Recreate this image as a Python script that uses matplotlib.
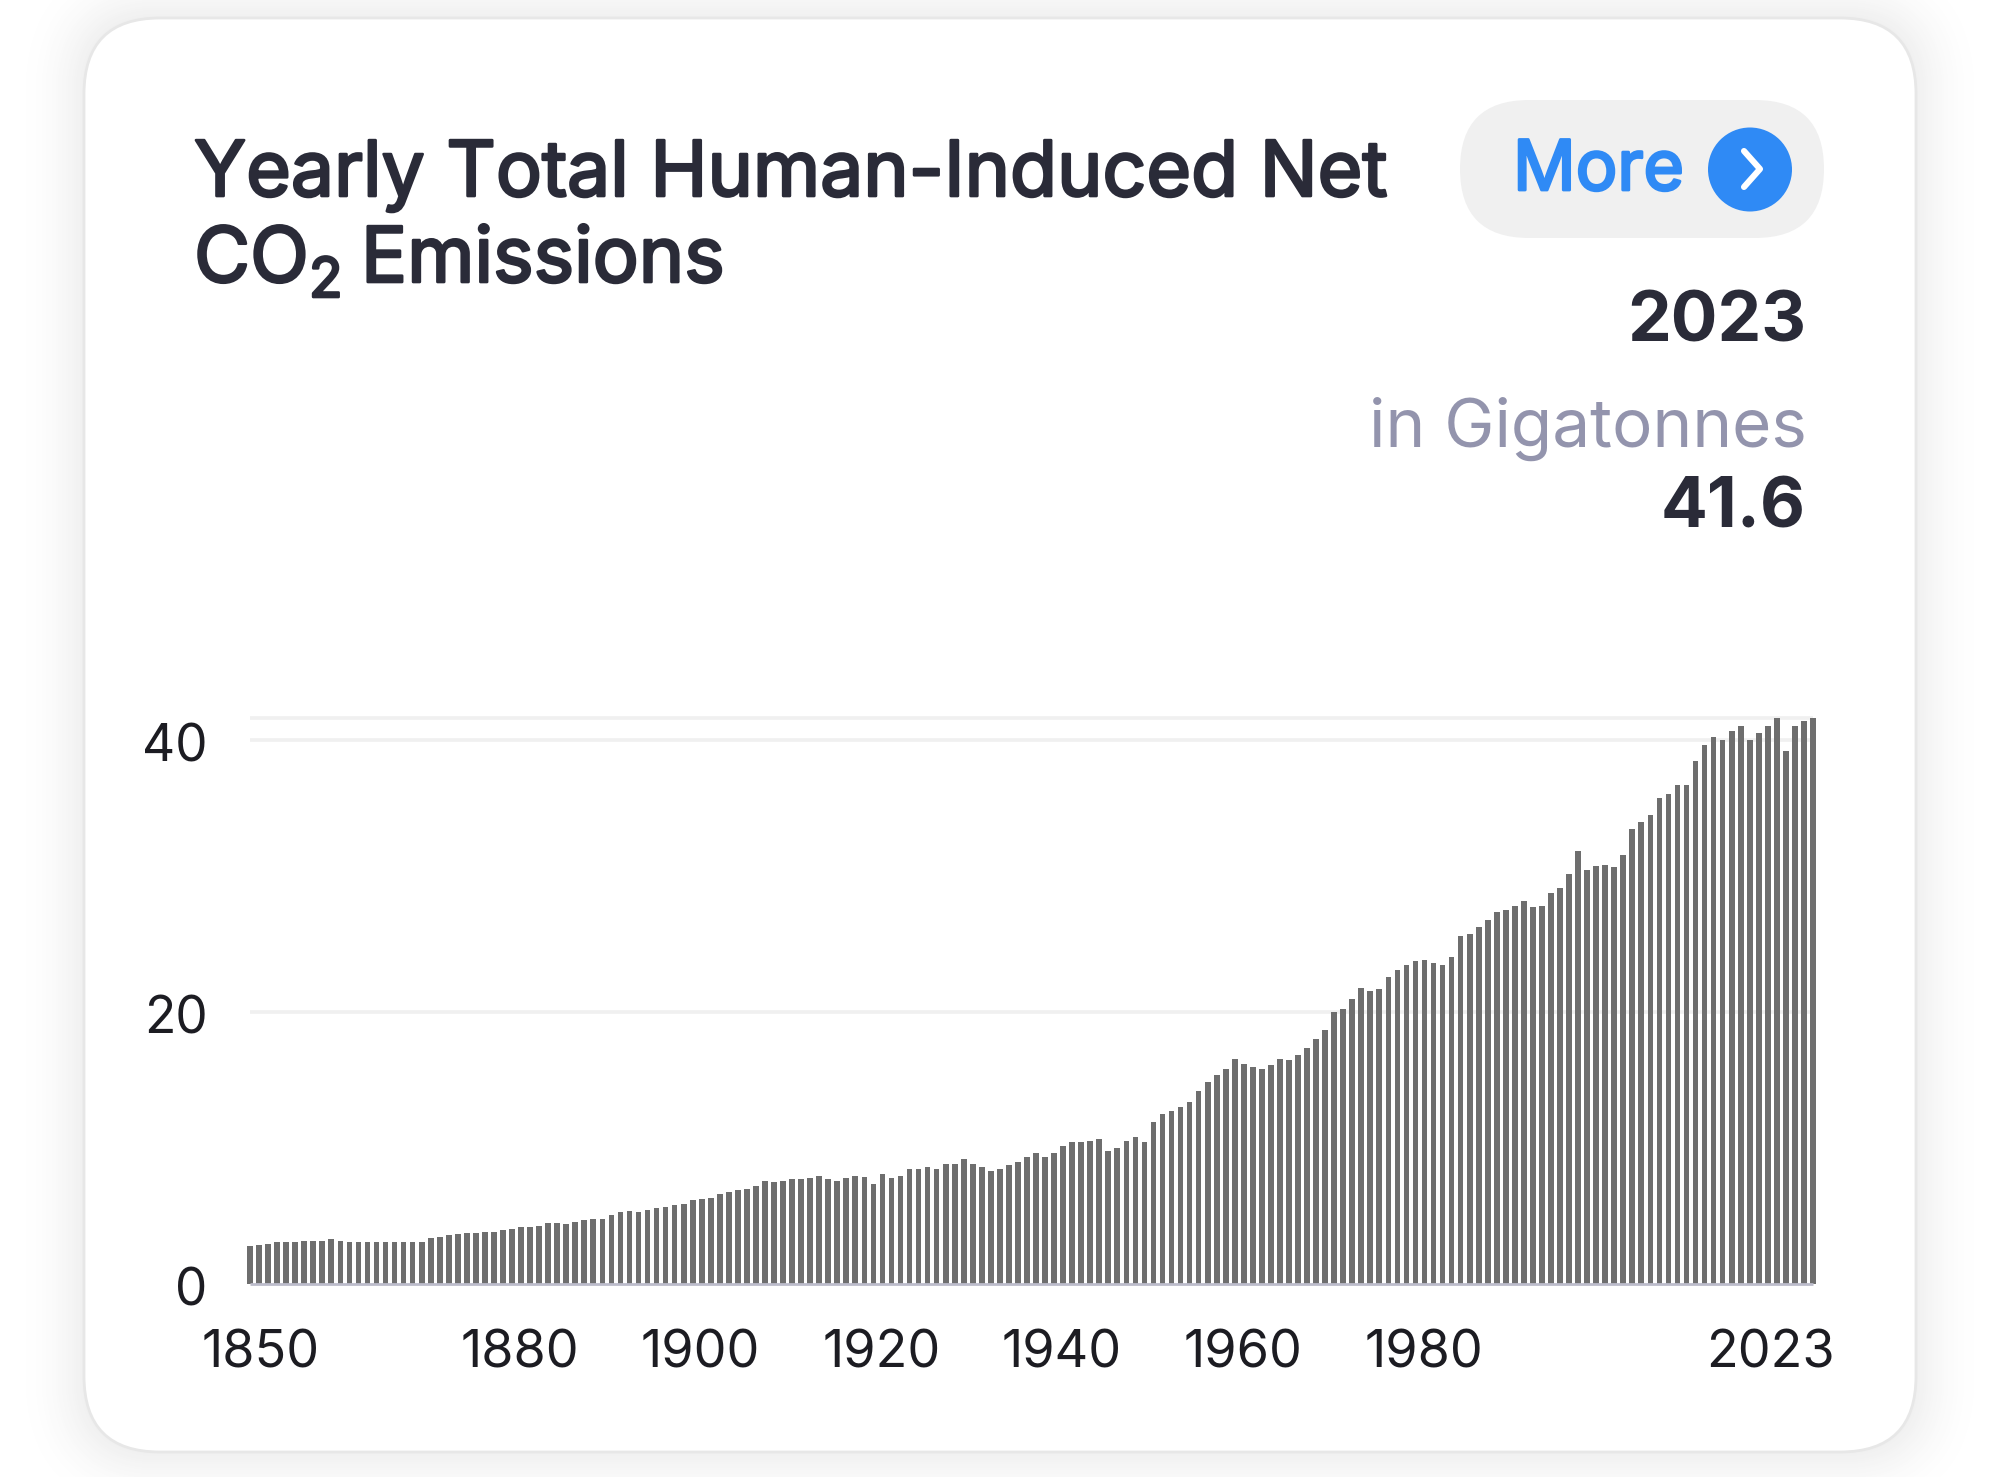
import numpy as np
import matplotlib
matplotlib.use("Agg")
import matplotlib.pyplot as plt
import matplotlib.patheffects as pe
from matplotlib.patches import FancyBboxPatch, Circle
from matplotlib.transforms import ScaledTranslation

W, H = 2000, 1477
DPI = 100

# one value per year 1850-2023 (gigatonnes)
years = np.arange(1850, 2024)
emissions = np.array([
    2.75, 2.84, 2.94, 3.04, 3.04, 3.04, 3.14, 3.14, 3.14, 3.24,
    3.14, 3.04, 3.04, 3.04, 3.04, 3.04, 3.04, 3.04, 3.04, 3.04,
    3.33, 3.43, 3.53, 3.63, 3.73, 3.73, 3.82, 3.82, 3.92, 4.02,
    4.12, 4.12, 4.22, 4.46, 4.46, 4.41, 4.53, 4.66, 4.75, 4.75,
    5.05, 5.25, 5.34, 5.29, 5.44, 5.54, 5.64, 5.74, 5.83, 6.13,
    6.23, 6.32, 6.57, 6.74, 6.86, 6.96, 7.16, 7.55, 7.45, 7.55,
    7.65, 7.65, 7.75, 7.94, 7.65, 7.55, 7.75, 7.89, 7.82, 7.35,
    8.04, 7.75, 7.92, 8.43, 8.43, 8.53, 8.43, 8.82, 8.82, 9.12,
    8.82, 8.53, 8.24, 8.43, 8.73, 8.92, 9.31, 9.61, 9.31, 9.61,
    10.10, 10.39, 10.39, 10.49, 10.59, 9.75, 10.00, 10.49, 10.74, 10.39,
    11.91, 12.43, 12.72, 12.99, 13.31, 14.12, 14.83, 15.34, 15.74, 16.52,
    16.13, 15.93, 15.74, 16.03, 16.52, 16.42, 16.79, 17.33, 18.01, 18.63,
    19.93, 20.22, 20.93, 21.74, 21.52, 21.62, 22.55, 23.04, 23.43, 23.68,
    23.82, 23.58, 23.43, 24.02, 25.54, 25.71, 26.23, 26.72, 27.30, 27.50,
    27.79, 28.11, 27.70, 27.79, 28.70, 29.09, 30.12, 31.81, 30.39, 30.71,
    30.78, 30.61, 31.52, 33.41, 33.92, 34.44, 35.71, 36.00, 36.69, 36.62,
    38.41, 39.63, 40.20, 40.00, 40.59, 41.00, 40.00, 40.50, 41.00, 41.60,
    39.19, 41.00, 41.38, 41.60,
])
y_ticks = [0, 20, 40]
x_ticks = [1850, 1880, 1900, 1920, 1940, 1960, 1980, 2023]
x_nudge = {1850: 11, 2023: -43}

TEXT = "#2a2b38"
BLUE = "#2f8af5"
plt.rcParams["font.family"] = ["Inter", "DejaVu Sans"]

fig = plt.figure(figsize=(W / DPI, H / DPI), dpi=DPI, facecolor="white")
bg = fig.add_axes([0, 0, 1, 1])
bg.set_xlim(0, W)
bg.set_ylim(H, 0)
bg.axis("off")

# soft card shadow, then the card with its thin edge
card_x, card_y, card_w, card_h = 84, 18, 1832, 1434
for grow in range(72, 0, -2):
    g = (255 - 16 * (1 - grow / 72) ** 2) / 255
    bg.add_patch(FancyBboxPatch((card_x - grow, card_y - grow), card_w + 2 * grow, card_h + 2 * grow,
                                boxstyle=f"round,pad=0,rounding_size={76 + grow}",
                                fc=(g, g, g), ec="none"))
bg.add_patch(FancyBboxPatch((card_x, card_y), card_w, card_h,
                            boxstyle="round,pad=0,rounding_size=76",
                            fc="white", ec="#e7e7e7", lw=2))

# header, only regular and bold Inter are around so regular gets a stroke for the semibold look
title_fx = [pe.withStroke(linewidth=1.9, foreground=TEXT)]
bg.text(194, 196, "Yearly Total Human-Induced Net", fontsize=55.3, color=TEXT,
        va="baseline", ha="left", path_effects=title_fx)
bg.text(194, 282, "CO", fontsize=55.3, color=TEXT, va="baseline", ha="left", path_effects=title_fx)
bg.text(309, 297, "2", fontsize=39.6, color=TEXT, va="baseline", ha="left", path_effects=title_fx)
bg.text(361, 282, "Emissions", fontsize=55.3, color=TEXT, va="baseline", ha="left",
        path_effects=title_fx)

# More button
bg.add_patch(FancyBboxPatch((1460, 100), 364, 138, boxstyle="round,pad=0,rounding_size=69",
                            fc="#f0f0f0", ec="none"))
bg.text(1513, 190, "More", fontsize=50, color=BLUE, va="baseline", ha="left",
        path_effects=[pe.withStroke(linewidth=2.0, foreground=BLUE)])
bg.add_patch(Circle((1750, 169.5), 42, fc=BLUE, ec="none"))
bg.plot([1744, 1760, 1744], [151, 169, 187], color="white", lw=4.4,
        solid_capstyle="round", solid_joinstyle="round")

bg.text(1806, 342, "2023", fontsize=50, fontweight="bold", color=TEXT, va="baseline", ha="right")
bg.text(1807, 447, "in Gigatonnes", fontsize=48.5, color="#9394ad", va="baseline", ha="right")
bg.text(1806, 527, "41.6", fontsize=50, fontweight="bold", color=TEXT, va="baseline", ha="right")

# chart area: 1850 sits at x=250 and 2023 at x=1813, 0 at y=1283.5, 40 at y=739.5
px_per_year = (1813 - 250) / 173
px_per_gt = (1283.5 - 739.5) / 40
ax_left, ax_right = 230, 1835
ax_top = 700
ax = fig.add_axes([ax_left / W, 1 - 1283.5 / H, (ax_right - ax_left) / W, (1283.5 - ax_top) / H])
ax.patch.set_alpha(0)
ax.set_xlim(1850 - 20 / px_per_year, 1850 + (ax_right - 250) / px_per_year)
ax.set_ylim(0, (1283.5 - ax_top) / px_per_gt)
for s in ax.spines.values():
    s.set_visible(False)

for v in y_ticks[1:] + [emissions.max()]:
    ax.hlines(v, years[0], years[-1], color="#f0f0f0", lw=2.6, zorder=1)
ax.hlines(0, years[0], years[-1], color="#bcbccb", lw=2, zorder=3, clip_on=False)
ax.bar(years, emissions, width=0.63, color="#6e6e6e", zorder=2)

ax.set_yticks(y_ticks)
ax.tick_params(axis="y", length=0, pad=16, labelsize=37, labelcolor="#1c1c22")
for lab in ax.get_yticklabels():
    lab.set_transform(lab.get_transform() + ScaledTranslation(0, -2.5 / DPI, fig.dpi_scale_trans))
ax.set_xticks([])
for yr in x_ticks:
    shift = ScaledTranslation(x_nudge.get(yr, -1) / DPI, -70 / DPI, fig.dpi_scale_trans)
    ax.text(yr, 0, str(yr), fontsize=37.5, color="#1c1c22", ha="center", va="center",
            transform=ax.get_xaxis_transform() + shift)

fig.savefig("out.png", dpi=DPI, facecolor=fig.get_facecolor())
